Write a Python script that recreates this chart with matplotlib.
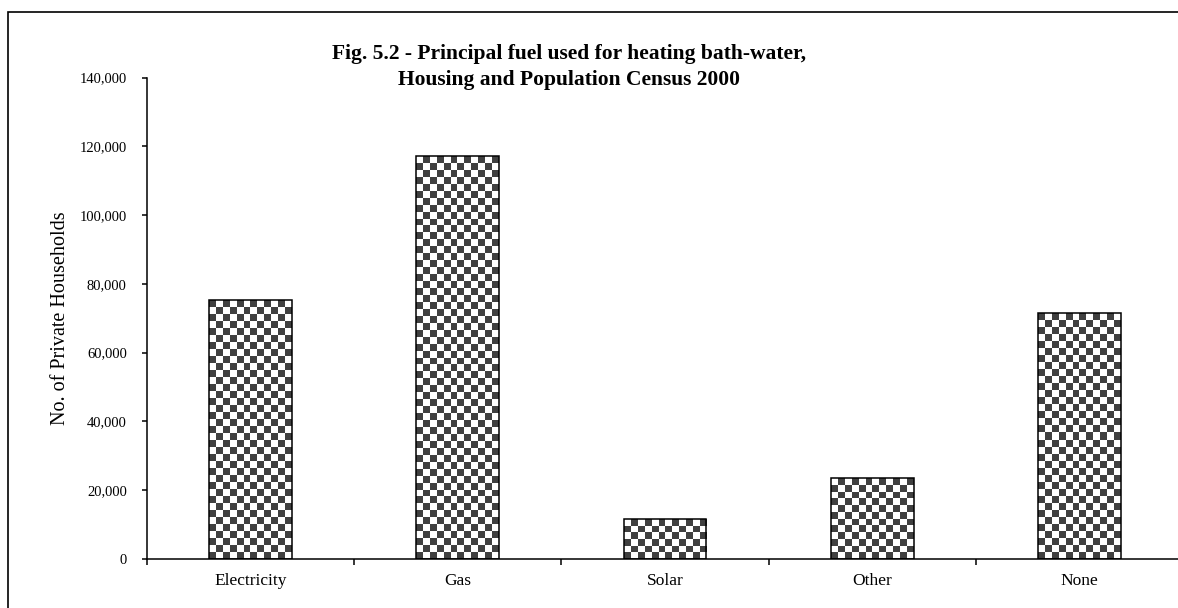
import numpy as np
import matplotlib
matplotlib.use("Agg")
import matplotlib.pyplot as plt
from matplotlib.patches import Rectangle
from matplotlib.ticker import FuncFormatter

categories = ["Electricity", "Gas", "Solar", "Other", "None"]
households = [75200, 117100, 11600, 23500, 71500]
yticks = [0, 20000, 40000, 60000, 80000, 100000, 120000, 140000]
title = "Fig. 5.2 - Principal fuel used for heating bath-water,\nHousing and Population Census 2000"
ylabel = "No. of Private Households"

W, H, DPI = 1178, 608, 100
plt.rcParams["font.family"] = ["Liberation Serif", "DejaVu Serif"]
fig = plt.figure(figsize=(W / DPI, H / DPI), dpi=DPI)

# outer chart-area border (cropped on right/bottom)
fig.patches.append(Rectangle((8 / W, -0.1), 1.2, 1 - 11.5 / H + 0.1, transform=fig.transFigure,
                             fill=False, edgecolor="black", linewidth=1.2, zorder=0))

ax_l, ax_r, ax_t, ax_b = 147, 1183, 77.5, 559
ax = fig.add_axes([ax_l / W, 1 - ax_b / H, (ax_r - ax_l) / W, (ax_b - ax_t) / H])
ax.set_facecolor("none")

x = np.arange(len(categories))
ax.set_xlim(-0.5, len(categories) - 0.5)
ax.set_ylim(0, 140000)

bars = ax.bar(x, households, width=0.4, facecolor="none", edgecolor="black",
              linewidth=1.1, zorder=3)

fig.canvas.draw()
cell = 7.0  # px
dark = np.array([0x40, 0x40, 0x40]) / 255.0
for b in bars:
    x0, y0 = b.get_x(), b.get_y()
    x1, y1 = x0 + b.get_width(), y0 + b.get_height()
    p0 = ax.transData.transform((x0, y0))
    p1 = ax.transData.transform((x1, y1))
    nx = max(1, int(round((p1[0] - p0[0]) / cell)))
    ny = max(1, int(round((p1[1] - p0[1]) / cell)))
    ii, jj = np.indices((ny, nx))
    chk = ((ii + jj) % 2 == 0)
    img = np.ones((ny, nx, 3))
    img[chk] = dark
    im = ax.imshow(img, extent=(x0, x1, y0, y1), origin="lower",
                   interpolation="nearest", aspect="auto", zorder=2)
    im.set_clip_path(b)

ax.set_aspect("auto")
ax.set_xlim(-0.5, len(categories) - 0.5)
ax.set_ylim(0, 140000)

for s in ["top", "right"]:
    ax.spines[s].set_visible(False)
for s in ["left", "bottom"]:
    ax.spines[s].set_linewidth(1.1)

ax.set_yticks(yticks)
ax.yaxis.set_major_formatter(FuncFormatter(lambda v, p: f"{int(v):,}"))
ax.tick_params(axis="y", direction="out", length=3.5, width=1.1, pad=11, labelsize=10.5)

ax.set_xticks(np.arange(-0.5, len(categories)), minor=False)
ax.set_xticklabels([])
ax.set_xticks(x, minor=True)
ax.set_xticklabels(categories, minor=True)
ax.tick_params(axis="x", which="major", direction="out", length=4, width=1.1)
ax.tick_params(axis="x", which="minor", length=0, pad=10, labelsize=12.5)

ax.set_ylabel(ylabel, fontsize=14.5)
ax.yaxis.set_label_coords((70 - ax_l) / (ax_r - ax_l), 0.5)

fig.text(569 / W, 1 - 67 / H, title, ha="center", va="center", fontsize=15.5,
         fontweight="bold", linespacing=1.45)

fig.savefig("out.png", dpi=DPI)
